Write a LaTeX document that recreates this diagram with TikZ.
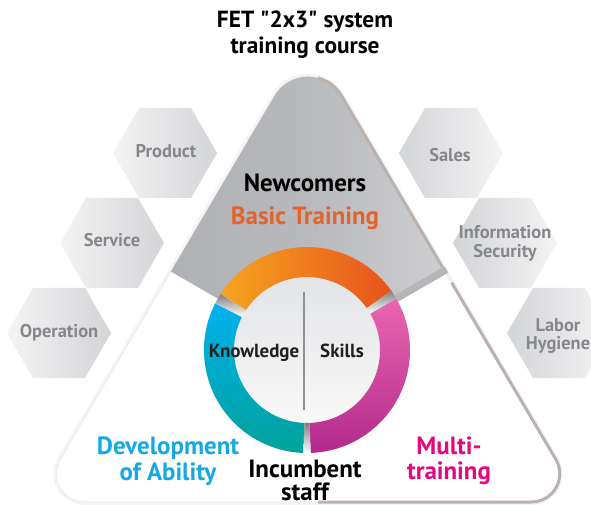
\documentclass[tikz,border=0pt]{standalone}
\usepackage{fontspec}
\setmainfont{PT Sans}[Ligatures=TeXOff]
\usetikzlibrary{calc}
\definecolor{hexgray}{HTML}{86878A}
\definecolor{hexlight}{HTML}{F4F4F5}
\definecolor{hexdark}{HTML}{D3D4D6}
\definecolor{wedgeL}{HTML}{A8A9AC}
\definecolor{wedgeM}{HTML}{B8B9BC}
\definecolor{wedgeR}{HTML}{E2E2E4}
\definecolor{edgec}{HTML}{BBB1AF}
\definecolor{barc}{HTML}{B6B6B8}
\definecolor{orangeA}{HTML}{F6A51F}
\definecolor{orangeB}{HTML}{E8521C}
\definecolor{tealA}{HTML}{00B1EE}
\definecolor{tealB}{HTML}{00A29A}
\definecolor{magA}{HTML}{EA66AF}
\definecolor{magB}{HTML}{B22A8D}
\definecolor{gapgray}{HTML}{C9CCD0}
\definecolor{innerT}{HTML}{E3E4E6}
\definecolor{innerB}{HTML}{F8F8F8}
\definecolor{divc}{HTML}{8F9093}
\definecolor{orangeT}{HTML}{E4632B}
\definecolor{cyanT}{HTML}{14A9E4}
\definecolor{magT}{HTML}{E4087E}
\newcommand{\hexshape}[2]{\shade[#1] (#2) ++(-52,0) -- ++(26,-45) -- ++(52,0) -- ++(26,45) -- ++(-26,45) -- ++(-52,0) -- cycle;}
\newcommand{\ringseg}[3]{\shade[#1] ($(c)+(#2:103)$) arc (#2:#3:103) -- ($(c)+(#3:73)$) arc (#3:#2:73) -- cycle;}
\def\tripath{(274.5,95.8) .. controls (289.5,70.3) and (326.5,70.3) .. (341.5,95.8) -- (555.6,459) .. controls (567,478.3) and (553.5,502) .. (531,502) -- (85,502) .. controls (62.5,502) and (49,478.3) .. (60.4,459) -- cycle}
\begin{document}
\begin{tikzpicture}[x=0.75pt,y=-0.75pt,
  hexlbl/.style={font=\fontsize{13.8}{15}\selectfont\bfseries,text=hexgray,anchor=base,inner sep=0},
  biglbl/.style={font=\fontsize{18.7}{20}\selectfont\bfseries,anchor=base,inner sep=0},
  ringlbl/.style={font=\fontsize{14.2}{15}\selectfont\bfseries,text=black!88,anchor=base,inner sep=0},
  hexL/.style={left color=hexlight,right color=hexdark},
  hexR/.style={left color=hexdark,right color=hexlight}]
\useasboundingbox (0,0) rectangle (591,505);
\fill[white] (0,0) rectangle (591,505);
% hexagons
\hexshape{hexL}{165,153}
\hexshape{hexL}{112,243}
\hexshape{hexL}{59,333}
\hexshape{hexR}{451,153}
\hexshape{hexR}{505,243}
\hexshape{hexR}{559,333}
% triangle
\draw[black!4, line width=4.5pt] \tripath;
\fill[white] \tripath;
\draw[black!8, line width=0.75pt] \tripath;
\coordinate (c) at (307,350);
\begin{scope}
  \clip (c) -- (-40,150) -- (-40,-100) -- (660,-100) -- (660,146) -- cycle;
  \shade[left color=wedgeL, right color=wedgeR, middle color=wedgeM] \tripath;
\end{scope}
\begin{scope}
  \clip (318,0) -- (600,0) -- (600,176.2) -- (318,339) -- cycle;
  \draw[edgec, line width=2.25pt] \tripath;
\end{scope}
\begin{scope}
  \clip (318,359.8) -- (600,197.1) -- (600,520) -- (318,520) -- cycle;
  \draw[edgec, line width=2.25pt] \tripath;
\end{scope}
% bar
\draw[barc, line width=5.5pt] (c) ++(-30:103) -- ++(-30:58);
% ring
\shade[top color=innerT, bottom color=innerB] (c) circle (73);
\ringseg{left color=orangeA, right color=orangeB}{-147}{-35}
\ringseg{top color=tealA, bottom color=tealB}{92}{207}
\ringseg{top color=magA, bottom color=magB}{-30}{88}
\ringseg{fill=gapgray}{-35}{-30}
\ringseg{fill=gapgray}{88}{92}
\ringseg{fill=white}{207}{213}
% divider
\coordinate (vt) at (304,292);
\coordinate (vb) at (304,410);
\draw[divc, line width=2.2pt] (vt) -- (vb);
% labels
\node[biglbl, font=\fontsize{17.5}{20}\selectfont\bfseries] (t1) at (305,28) {FET "2x3" system};
\node[biglbl, font=\fontsize{17.5}{20}\selectfont\bfseries] (t2) at (305,54) {training course};
\node[biglbl] (newc) at (305,192) {Newcomers};
\node[biglbl, text=orangeT] (basic) at (305,225) {Basic Training};
\node[hexlbl] (product) at (166,158) {Product};
\node[hexlbl] (service) at (112,247) {Service};
\node[hexlbl] (operation) at (59,337) {Operation};
\node[hexlbl] (sales) at (450,162) {Sales};
\node[hexlbl] (info) at (505,239) {Information};
\node[hexlbl] (secur) at (505,258) {Security};
\node[hexlbl] (labor) at (558,331) {Labor};
\node[hexlbl] (hyg) at (558,349) {Hygiene};
\node[ringlbl] (know) at (254,357) {Knowledge};
\node[ringlbl] (skills) at (342,357) {Skills};
\node[biglbl, text=cyanT] (dev1) at (168,454) {Development};
\node[biglbl, text=cyanT] (dev2) at (168,480) {of Ability};
\node[biglbl] (inc1) at (305,477) {Incumbent};
\node[biglbl] (inc2) at (305,500) {staff};
\node[biglbl, text=magT] (mul1) at (449,454) {Multi-};
\node[biglbl, text=magT] (mul2) at (449,479) {training};
\end{tikzpicture}
\end{document}
